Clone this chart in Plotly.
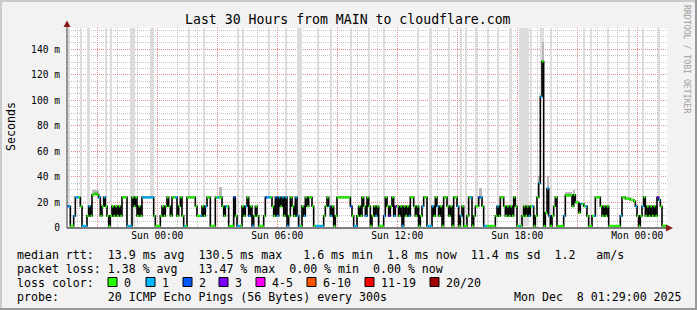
import plotly.graph_objects as go
from datetime import datetime, timedelta

# ---------------- data ----------------
start_time = datetime(2025, 12, 6, 19, 29)
end_time = datetime(2025, 12, 8, 1, 29)
step_minutes = 5

# median rtt in ms, one value per 5-minute step (rows = 1 hour)
median_ms = [
    17, 17, 1.6, 1.6, 9.5, 24, 24, 24, 17, 1.6, 1.6, 1.6,
    9.5, 17, 9.5, 26, 26.5, 27, 26, 24, 9.5, 17, 24, 17,
    9.5, 1.6, 9.5, 17, 9.5, 17, 9.5, 17, 9.5, 24, 24, 24,
    1.6, 1.6, 1.6, 24, 17, 24, 9.5, 17, 9.5, 24, 24, 24,
    24, 24, 24, 24, 9.5, 1.6, 1.6, 1.6, 9.5, 17, 9.5, 17,
    24, 17, 9.5, 24, 24, 24, 9.5, 17, 24, 9.5, 1.6, 1.6,
    24, 24, 24, 24, 24, 17, 9.5, 9.5, 9.5, 17, 9.5, 17,
    24, 24, 1.6, 1.6, 1.6, 24, 24, 24, 24, 17, 9.5, 17,
    17, 1.6, 1.6, 1.6, 24, 9.5, 1.6, 1.6, 1.6, 17, 9.5, 17,
    24, 9.5, 17, 1.6, 9.5, 17, 9.5, 1.6, 1.6, 1.6, 9.5, 24,
    24, 24, 24, 17, 9.5, 24, 9.5, 24, 17, 24, 9.5, 24,
    1.6, 9.5, 24, 17, 9.5, 24, 9.5, 1.6, 1.6, 17, 9.5, 24,
    17, 24, 24, 17, 1.6, 1.6, 1.6, 1.6, 1.6, 1.6, 9.5, 17,
    24, 17, 9.5, 17, 1.6, 9.5, 24, 24, 24, 24, 24, 24,
    24, 24, 17, 9.5, 1.6, 1.6, 9.5, 17, 9.5, 24, 17, 9.5,
    24, 17, 1.6, 9.5, 17, 9.5, 17, 1.6, 1.6, 1.6, 9.5, 24,
    17, 9.5, 17, 24, 9.5, 17, 17, 9.5, 17, 1.6, 17, 9.5,
    17, 9.5, 24, 24, 17, 9.5, 17, 1.6, 9.5, 17, 24, 24,
    1.6, 1.6, 1.6, 17, 9.5, 24, 17, 9.5, 17, 1.6, 24, 24,
    17, 9.5, 17, 1.6, 24, 24, 17, 1.6, 9.5, 17, 1.6, 1.6,
    9.5, 24, 24, 1.6, 9.5, 17, 17, 24, 24, 17, 1.6, 1.6,
    1.6, 1.6, 1.6, 1.6, 1.6, 9.5, 17, 9.5, 24, 24, 17, 9.5,
    17, 9.5, 17, 9.5, 24, 17, 1.6, 1.6, 1.6, 9.5, 17, 9.5,
    17, 9.5, 17, 17, 1.6, 9.5, 24, 35, 103, 130.5, 1.6, 12,
    31, 9.5, 1.6, 9.5, 17, 24, 1.6, 1.6, 1.6, 1.6, 9.5, 25.6,
    25.6, 25.6, 25.6, 17, 26, 20, 20, 12, 19, 19, 17, 17,
    9.5, 1.6, 1.6, 9.5, 9.5, 24, 24, 24, 17, 9.5, 17, 9.5,
    17, 1.6, 1.6, 1.6, 1.6, 1.6, 1.6, 1.6, 9.5, 24, 24, 23,
    23, 23, 22, 22, 21, 17, 9.5, 1.6, 9.5, 17, 24, 9.5,
    17, 9.5, 17, 9.5, 17, 9.5, 24, 22, 17, 1.6, 1.8, 1.8,
]

# lost pings (of 20) per step
lost_pings = [
    2, 1, 0, 0, 1, 1, 1, 0, 0, 1, 1, 1,
    0, 1, 0, 0, 0, 0, 0, 1, 0, 0, 1, 0,
    0, 0, 0, 0, 0, 0, 0, 0, 0, 0, 0, 0,
    1, 1, 1, 0, 0, 0, 0, 0, 0, 1, 1, 1,
    1, 1, 1, 1, 0, 0, 0, 0, 0, 0, 0, 0,
    0, 0, 0, 0, 0, 1, 0, 0, 0, 0, 1, 0,
    0, 0, 0, 0, 0, 0, 0, 0, 1, 0, 0, 1,
    0, 0, 0, 0, 0, 0, 1, 0, 0, 0, 0, 1,
    0, 0, 0, 0, 2, 0, 1, 1, 0, 0, 0, 1,
    0, 1, 0, 1, 0, 0, 0, 0, 0, 0, 0, 2,
    1, 1, 0, 0, 0, 2, 1, 1, 0, 1, 0, 1,
    1, 0, 0, 0, 0, 1, 1, 1, 0, 0, 1, 0,
    0, 0, 0, 0, 0, 1, 1, 1, 1, 1, 0, 0,
    0, 1, 1, 0, 0, 0, 0, 0, 0, 0, 0, 0,
    0, 0, 2, 0, 1, 1, 0, 0, 0, 0, 0, 1,
    0, 0, 0, 0, 0, 1, 0, 0, 0, 0, 1, 0,
    0, 3, 0, 0, 1, 3, 0, 0, 0, 1, 0, 0,
    0, 1, 0, 0, 0, 0, 0, 0, 0, 1, 0, 0,
    1, 1, 1, 1, 0, 0, 1, 0, 0, 0, 0, 0,
    0, 0, 0, 0, 0, 0, 1, 0, 1, 0, 0, 0,
    0, 0, 1, 0, 0, 0, 0, 2, 1, 0, 1, 1,
    0, 0, 0, 0, 0, 0, 1, 0, 0, 0, 0, 0,
    0, 0, 0, 0, 0, 0, 0, 1, 0, 0, 0, 0,
    0, 1, 0, 1, 0, 0, 0, 1, 1, 0, 0, 0,
    1, 1, 0, 0, 0, 0, 0, 0, 0, 0, 1, 0,
    0, 0, 0, 0, 0, 0, 0, 0, 1, 0, 0, 1,
    0, 0, 0, 0, 1, 0, 0, 0, 0, 0, 0, 0,
    0, 0, 0, 0, 0, 0, 0, 0, 1, 0, 0, 0,
    0, 0, 0, 0, 0, 1, 0, 0, 0, 1, 0, 0,
    0, 0, 0, 0, 0, 0, 3, 1, 0, 0, 0, 0,
]

# tall smoke columns: first step, number of steps, top (ms; >157 = off chart)
tall_smoke_start = [1, 8, 12, 23, 26, 38, 50, 73, 82, 102, 105, 121, 131, 138, 150, 158,
                    170, 181, 190, 210, 217, 229, 236, 239, 245, 252, 258, 265, 271, 278,
                    284, 290, 310, 314, 324, 337, 345, 355]
tall_smoke_len = [1, 1, 2, 1, 1, 3, 2, 1, 1, 1, 1, 1, 1, 3, 1, 1,
                  1, 1, 1, 1, 2, 1, 1, 1, 1, 1, 1, 2, 6, 1,
                  2, 1, 1, 1, 1, 1, 1, 1]
tall_smoke_top = [160] * 38

# denser smoke close to the median
near_smoke_start = [15, 91, 247, 283, 285, 288, 299, 304]
near_smoke_len = [4, 2, 2, 1, 1, 1, 4, 1]
near_smoke_top = [29.5, 32, 31, 41, 146, 41, 28, 30]

loss_classes = ["0", "1", "2", "3", "4-5", "6-10", "11-19", "20/20"]
loss_colors = ["#26ff00", "#00b8ff", "#0059ff", "#7e00ff", "#ff00ff", "#ff5500", "#ff0000", "#a10000"]
loss_class_max = [0, 1, 2, 3, 5, 10, 19, 20]

y_tick_values = [0, 20, 40, 60, 80, 100, 120, 140]
y_tick_labels = ["0", "20 m", "40 m", "60 m", "80 m", "100 m", "120 m", "140 m"]
x_tick_values = [datetime(2025, 12, 6, 21), datetime(2025, 12, 7, 0), datetime(2025, 12, 7, 3),
                 datetime(2025, 12, 7, 6), datetime(2025, 12, 7, 9), datetime(2025, 12, 7, 12),
                 datetime(2025, 12, 7, 15), datetime(2025, 12, 7, 18), datetime(2025, 12, 7, 21),
                 datetime(2025, 12, 8, 0)]
x_tick_labels = ["", "Sun 00:00", "", "Sun 06:00", "", "Sun 12:00", "", "Sun 18:00", "", "Mon 00:00"]

title_text = "Last 30 Hours from MAIN to cloudflare.com"
legend_rtt = "median rtt:  13.9 ms avg  130.5 ms max   1.6 ms min  1.8 ms now  11.4 ms sd  1.2   am/s"
legend_loss = "packet loss: 1.38 % avg   13.47 % max  0.00 % min  0.00 % now"
legend_probe = "probe:       20 ICMP Echo Pings (56 Bytes) every 300s"
legend_date = "Mon Dec  8 01:29:00 2025"

# ---------------- layout geometry (pixels) ----------------
W, H = 697, 310
PL, PR, PT, PB = 67, 667, 28, 228
Y_MAX = 156.7
MONO = "DejaVu Sans Mono"


def px(x):
    return (x - PL) / (PR - PL)


def py(y):
    return (PB - y) / (PB - PT)


def nb(s):
    return s.replace(" ", "\u00a0")


step = timedelta(minutes=step_minutes)
times = [start_time + step * i for i in range(len(median_ms))]

fig = go.Figure()


def add_smoke(starts, lens, tops, color):
    xs, bases, hs, ws = [], [], [], []
    for s, n, top in zip(starts, lens, tops):
        base = min(median_ms[s:s + n])
        xs.append(times[s] + step * n / 2)
        bases.append(base)
        hs.append(top - base)
        ws.append(n * step_minutes * 60 * 1000)
    fig.add_trace(go.Bar(x=xs, y=hs, base=bases, width=ws, marker=dict(color=color, line=dict(width=0)),
                         showlegend=False, hoverinfo="skip"))


add_smoke(tall_smoke_start, tall_smoke_len, tall_smoke_top, "#dcdcdc")
add_smoke(near_smoke_start, near_smoke_len, near_smoke_top, "#b8b8b8")

# median step line
fig.add_trace(go.Scatter(x=times + [times[-1] + step], y=median_ms + [median_ms[-1]], mode="lines",
                         line=dict(color="#000000", width=1.6, shape="hv"), showlegend=False, hoverinfo="skip"))


def loss_class(n):
    for k, m in enumerate(loss_class_max):
        if n <= m:
            return k
    return len(loss_class_max) - 1


for k, col in enumerate(loss_colors):
    xs, ys = [], []
    for i, (v, n) in enumerate(zip(median_ms, lost_pings)):
        if loss_class(n) == k:
            xs += [times[i], times[i] + step, None]
            ys += [v, v, None]
    if xs:
        fig.add_trace(go.Scatter(x=xs, y=ys, mode="lines", line=dict(color=col, width=2.2),
                                 showlegend=False, hoverinfo="skip"))

shapes = []
# frame
shapes.append(dict(type="line", xref="paper", yref="paper", x0=px(0), x1=px(W), y0=py(1), y1=py(1),
                   line=dict(color="#cbcbcb", width=2)))
shapes.append(dict(type="line", xref="paper", yref="paper", x0=px(1), x1=px(1), y0=py(0), y1=py(H),
                   line=dict(color="#cbcbcb", width=2)))
shapes.append(dict(type="line", xref="paper", yref="paper", x0=px(0), x1=px(W), y0=py(H - 1), y1=py(H - 1),
                   line=dict(color="#999999", width=2)))
shapes.append(dict(type="line", xref="paper", yref="paper", x0=px(W - 1), x1=px(W - 1), y0=py(0), y1=py(H),
                   line=dict(color="#999999", width=2)))
# axes
shapes.append(dict(type="line", xref="paper", yref="paper", x0=px(PL), x1=px(668), y0=py(PB), y1=py(PB),
                   line=dict(color="#000000", width=1.2)))
shapes.append(dict(type="line", xref="paper", yref="paper", x0=px(PL), x1=px(PL), y0=py(PB), y1=py(25),
                   line=dict(color="#555555", width=1.2)))
# arrows
shapes.append(dict(type="path", xref="paper", yref="paper",
                   path=f"M {px(PL-3.5)} {py(27)} L {px(PL+3.5)} {py(27)} L {px(PL)} {py(20.5)} Z",
                   fillcolor="#8b1a1a", line=dict(width=0)))
shapes.append(dict(type="path", xref="paper", yref="paper",
                   path=f"M {px(666)} {py(224.5)} L {px(666)} {py(231.5)} L {px(673)} {py(228)} Z",
                   fillcolor="#8b1a1a", line=dict(width=0)))

annotations = []


def text(x, y, s, size=11.6, anchor="left", color="#000000", angle=0):
    annotations.append(dict(x=px(x), y=py(y), xref="paper", yref="paper", text=nb(s), showarrow=False,
                            xanchor=anchor, yanchor="middle", textangle=angle,
                            font=dict(family=MONO, size=size, color=color)))


text(347.5, 19.5, title_text, size=13.2, anchor="center")
text(11, 127, "Seconds", size=11.6, anchor="center", angle=-90)
text(687, 59, "RRDTOOL / TOBI OETIKER", size=8.2, anchor="center", color="#a0a0a0", angle=90)
text(15, 254.5, legend_rtt)
text(15, 268.5, legend_loss)
text(15, 282.5, "loss color:")
text(15, 296.5, legend_probe)
text(512, 296.5, legend_date)

sq_x = [108, 146, 183, 219, 256, 307, 365, 430]
for xk, col, lab in zip(sq_x, loss_colors, loss_classes):
    shapes.append(dict(type="rect", xref="paper", yref="paper", x0=px(xk), x1=px(xk + 9),
                       y0=py(277.5), y1=py(286.5), fillcolor=col, line=dict(color="#000000", width=1)))
    text(xk + 14, 282.5, lab)

fig.update_layout(
    width=W, height=H,
    margin=dict(l=PL, r=W - PR, t=PT, b=H - PB, pad=0),
    paper_bgcolor="#f2f2f2", plot_bgcolor="#ffffff",
    font=dict(family=MONO, size=9.6, color="#000000"),
    barmode="overlay", bargap=0,
    shapes=shapes, annotations=annotations,
    showlegend=False,
)
fig.update_xaxes(
    type="date", range=[start_time, end_time],
    tickmode="array", tickvals=x_tick_values, ticktext=x_tick_labels,
    showgrid=True, gridcolor="rgba(255,95,95,0.6)", gridwidth=1, griddash="1px,1px",
    minor=dict(dtick=3600000, tick0=datetime(2025, 12, 6, 20), showgrid=True,
               gridcolor="rgba(150,150,150,0.55)", griddash="1px,1px", gridwidth=1),
    zeroline=False, showline=False, ticks="", tickfont=dict(family=MONO, size=9.6),
    fixedrange=True,
)
fig.update_yaxes(
    range=[0, Y_MAX], tickmode="array", tickvals=y_tick_values, ticktext=y_tick_labels,
    showgrid=True, gridcolor="rgba(255,95,95,0.6)", gridwidth=1, griddash="1px,1px",
    minor=dict(dtick=5, showgrid=True, gridcolor="rgba(150,150,150,0.55)", griddash="1px,1px", gridwidth=1),
    zeroline=False, showline=False, ticks="", ticklabelstandoff=6,
    tickfont=dict(family=MONO, size=9.6), fixedrange=True,
)

fig.write_html("out.html", config={"displayModeBar": False})
